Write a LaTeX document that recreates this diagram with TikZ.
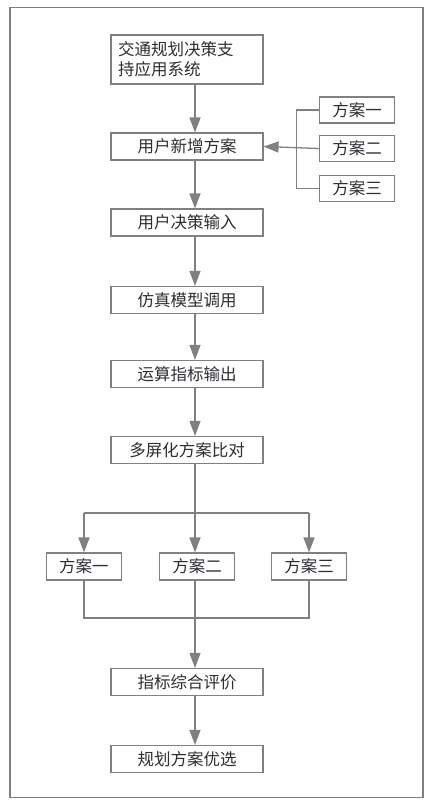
\documentclass[tikz,border=0pt]{standalone}
\usepackage{fontspec}
\newfontfamily\cjk{Noto Sans CJK SC}
\usetikzlibrary{arrows.meta}
\definecolor{linegray}{RGB}{128,128,130}
\definecolor{textgray}{RGB}{45,45,50}

\tikzstyle{stepbox} = [draw=linegray,line width=1.2pt,minimum width=152pt,minimum height=27pt,inner sep=0pt,font=\cjk\fontsize{16.5}{20}\selectfont,text=textgray]
\tikzstyle{optbox} = [stepbox,minimum width=75pt,minimum height=26pt]
\tikzstyle{link} = [draw=linegray,line width=1.3pt]
\tikzstyle{arrowdecorate} = [link,-{Triangle[length=15pt,width=11pt]}]

\begin{document}
\begin{tikzpicture}[x=1pt,y=-1pt]
    \useasboundingbox (0,0) rectangle (436,807);
    \draw[link] (10,7.5) rectangle (423,797.5);

    % main chain
    \node[stepbox,minimum height=49pt,text width=138pt,align=left] (sys) at (187,59.5) {交通规划决策支\\持应用系统};
    \foreach \nodename/\label/\y in {
      add/用户新增方案/146.5, input/用户决策输入/222.5, model/仿真模型调用/300,
      output/运算指标输出/374, compare/多屏化方案比对/450,
      eval/指标综合评价/682, best/规划方案优选/759}
    {
      \node[stepbox] (\nodename) at (187,\y) {\label};
    }

    % options on the right
    \foreach \nodename/\label/\y in {
      opt1/方案一/110, opt2/方案二/148.5, opt3/方案三/188.5}
    {
      \node[optbox] (\nodename) at (357,\y) {\label};
    }

    % options below
    \foreach \nodename/\label/\x in {
      plan1/方案一/84, plan2/方案二/197, plan3/方案三/309}
    {
      \node[optbox,minimum height=27pt] (\nodename) at (\x,566.5) {\label};
    }

    \coordinate (spine) at (195,0);
    \coordinate (bracket) at (296.5,0);
    \coordinate (split) at (0,513);
    \coordinate (join) at (0,618);

    %edges or lines
    \path
    \foreach \startnode/\endnode in {
      sys/add, add/input, input/model, model/output, output/compare, eval/best}
    {
      (\startnode.south -| spine) edge[arrowdecorate] (\endnode.north -| spine)
    };

    \draw[link] (opt1.west) -| (bracket |- opt3) -- (opt3.west);
    \draw[arrowdecorate] (opt2.west) -- (add.east);

    \draw[arrowdecorate] (compare.south -| spine) -- (plan2.north -| spine);
    \draw[link] (split -| plan1) -- (split -| plan3);
    \draw[arrowdecorate] (split -| plan1) -- (plan1.north);
    \draw[arrowdecorate] (split -| plan3) -- (plan3.north);

    \draw[link] (plan1.south) -- (join -| plan1) -- (join -| plan3) -- (plan3.south);
    \draw[arrowdecorate] (plan2.south -| spine) -- (eval.north -| spine);
\end{tikzpicture}
\end{document}
